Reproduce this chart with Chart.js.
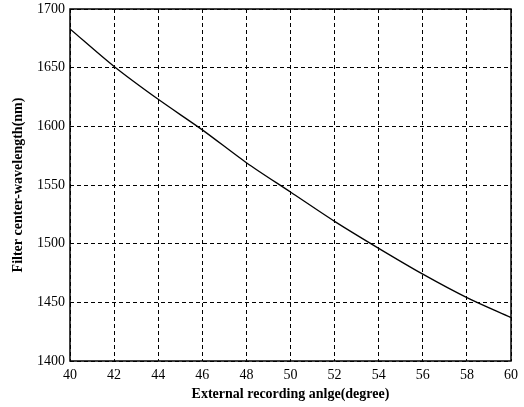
<!DOCTYPE html>
<html>
<head>
<meta charset="utf-8">
<script src="https://cdn.jsdelivr.net/npm/chart.js@4/dist/chart.umd.min.js"></script>
<style>
  html, body { margin: 0; padding: 0; background: #fff; }
  #wrap { width: 524px; height: 407px; }
</style>
</head>
<body>
<div id="wrap"><canvas id="chart"></canvas></div>
<script>
const angles = [40, 42, 44, 46, 48, 50, 52, 54, 56, 58, 60];
const wavelengths = [1683, 1651, 1623, 1597, 1569, 1544, 1519, 1496, 1474, 1454, 1437];

const xTitle = 'External recording anlge(degree)';
const yTitle = 'Filter center-wavelength(nm)';

// solid frame round the plot area
const framePlugin = {
  id: 'frame',
  afterDraw(chart) {
    const a = chart.chartArea, ctx = chart.ctx;
    ctx.save();
    ctx.strokeStyle = '#000';
    ctx.lineWidth = 1.5;
    ctx.strokeRect(a.left, a.top, a.right - a.left, a.bottom - a.top);
    ctx.restore();
  }
};

const tickFont = { family: '"Liberation Serif", "DejaVu Serif", serif', size: 14 };
const titleFont = { family: '"Liberation Serif", "DejaVu Serif", serif', size: 14, weight: 'bold' };

new Chart(document.getElementById('chart'), {
  type: 'line',
  data: {
    datasets: [{
      data: angles.map((a, i) => ({ x: a, y: wavelengths[i] })),
      borderColor: '#000',
      borderWidth: 1.3,
      pointRadius: 0,
      tension: 0.3,
      fill: false
    }]
  },
  options: {
    responsive: true,
    maintainAspectRatio: false,
    animation: false,
    layout: { padding: { top: 9, right: 13, left: 10, bottom: 4 } },
    plugins: { legend: { display: false }, tooltip: { enabled: false } },
    scales: {
      x: {
        type: 'linear',
        min: 40, max: 60,
        afterFit(s) { s.height = 42; },
        ticks: { stepSize: 2, color: '#000', font: tickFont, padding: 6, maxRotation: 0, callback: v => String(v) },
        grid: { color: '#000', lineWidth: 1, drawTicks: false },
        border: { display: false, dash: [4, 3] },
        title: { display: true, text: xTitle, color: '#000', font: titleFont, padding: { top: 0, bottom: 0 } }
      },
      y: {
        min: 1400, max: 1700,
        afterFit(s) { s.width = 60; s.paddingTop = 0; s.paddingBottom = 0; },
        ticks: { stepSize: 50, color: '#000', font: tickFont, padding: 5, callback: v => String(v) },
        grid: { color: '#000', lineWidth: 1, drawTicks: false },
        border: { display: false, dash: [4, 3] },
        title: { display: true, text: yTitle, color: '#000', font: titleFont, padding: { top: 0, bottom: 0 } }
      }
    }
  },
  plugins: [framePlugin]
});
</script>
</body>
</html>
